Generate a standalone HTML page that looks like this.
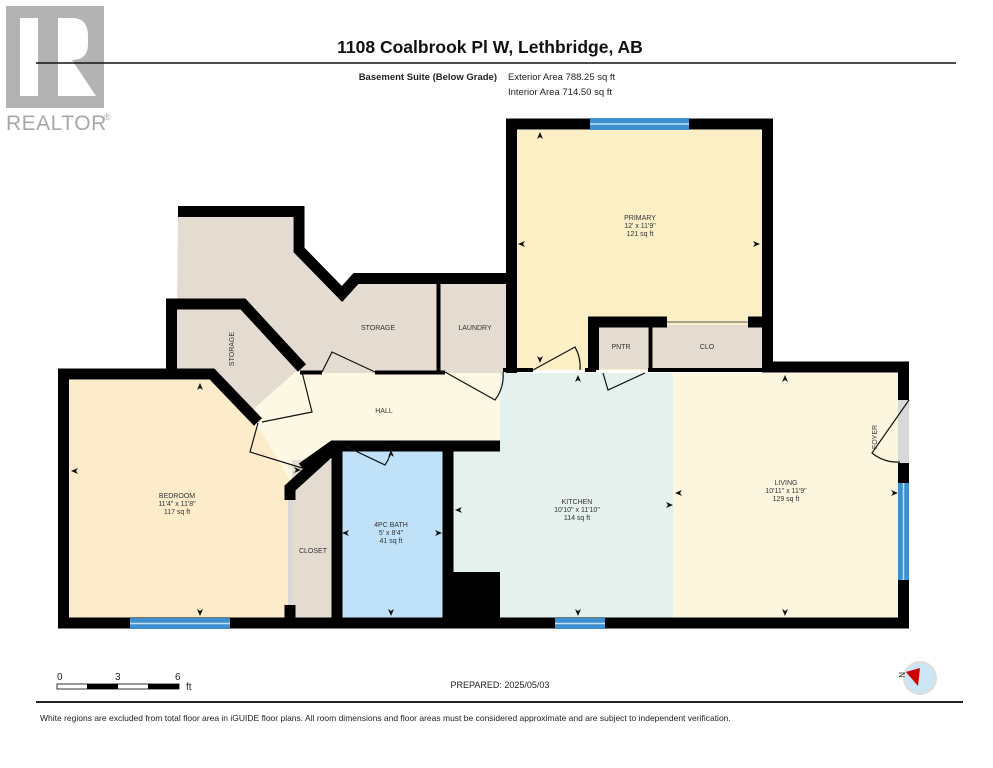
<!DOCTYPE html>
<html><head><meta charset="utf-8"><style>
html,body{margin:0;padding:0;background:#fff;}
svg{display:block;font-family:"Liberation Sans",sans-serif;}
.l{font-size:7px;fill:#333;text-anchor:middle;}
</style></head><body>
<svg width="993" height="768" viewBox="0 0 993 768" xmlns="http://www.w3.org/2000/svg">
<defs>
<polygon id="au" points="0,-5 -3,2 0,0 3,2" fill="#111"/>
</defs>
<!-- logo -->
<rect x="6" y="6" width="98" height="102" fill="#b3b3b3"/>
<rect x="20" y="18" width="18" height="78" fill="#fff"/>
<path d="M58 18 H72 Q88 18 88 36 V44 Q88 60 72 60 L96 96 H58 Z" fill="#fff"/>
<text x="6" y="130" font-size="21" fill="#a8a8a8" letter-spacing="0.5">REALTOR</text>
<text x="104" y="120" font-size="9" fill="#a8a8a8">®</text>
<!-- header -->
<line x1="36" y1="63" x2="956" y2="63" stroke="#111" stroke-width="1.5"/>
<text x="490" y="53" font-size="17.5" font-weight="bold" text-anchor="middle" fill="#111">1108 Coalbrook Pl W, Lethbridge, AB</text>
<text x="497" y="80" font-size="9.5" font-weight="bold" text-anchor="end" fill="#222">Basement Suite (Below Grade)</text>
<text x="508" y="80" font-size="9.5" fill="#222">Exterior Area 788.25 sq ft</text>
<text x="508" y="95" font-size="9.5" fill="#222">Interior Area 714.50 sq ft</text>

<!-- fills -->
<polygon points="178,217 293,217 293,252 340,300 352,284 510,284 510,373 300,373 243,309 177,309" fill="#e4dcd1"/>
<polygon points="177,309 243,309 300,373 258,418 212,374 177,374" fill="#e4dcd1"/>
<polygon points="69,380 210,380 300,470 292,480 292,618 69,618" fill="#fcecc9"/>
<polygon points="300,373 500,373 500,446 333,446 302,470 258,418" fill="#fdf8e3"/>
<polygon points="250,412 300,368 312,470 292,484" fill="#fdf8e3"/>
<rect x="292" y="460" width="42" height="160" fill="#e4dcd1"/>
<rect x="341" y="448" width="103" height="170" fill="#bfe2f8"/>
<polygon points="500,373 673,373 673,618 452,618 452,448 500,448" fill="#e5f1ec"/>
<rect x="673" y="373" width="226" height="245" fill="#fdf6de"/>
<rect x="517" y="130" width="246" height="240" fill="#fcefc6"/>
<rect x="596" y="325" width="52" height="44" fill="#e4dcd1"/>
<rect x="653" y="325" width="110" height="44" fill="#e4dcd1"/>

<!-- walls -->
<g fill="none" stroke="#000" stroke-width="11" stroke-linejoin="miter">
<polyline points="178,211.5 299,211.5 299,250 342,294 356,278.5 512,278.5"/>
<polyline points="511.5,373 511.5,124 767.5,124 767.5,367 903.5,367 903.5,400"/>
<polyline points="903.5,463 903.5,623 63.5,623 63.5,374 212,374 258,422"/>
<polyline points="171.5,374 171.5,304 243,304 302,368"/>
<polyline points="302,468 333,446 500,446"/>
<polyline points="337,446 337,623"/>
<polyline points="448,446 448,623"/>
<polyline points="334,448 290,488 290,500"/>
<polyline points="290,605 290,623"/>
<polyline points="593.5,370 593.5,322 667,322"/>
<polyline points="748,322 767,322"/>
</g>
<g stroke="#000" stroke-width="4" fill="none">
<line x1="438.5" y1="283" x2="438.5" y2="373"/>
<line x1="650.5" y1="322" x2="650.5" y2="370"/>
<line x1="300" y1="372.5" x2="322" y2="372.5"/>
<line x1="375" y1="372.5" x2="445" y2="372.5"/>
<line x1="503" y1="370" x2="533" y2="370"/>
<line x1="585" y1="370" x2="596" y2="370"/>
<line x1="648" y1="370" x2="762" y2="370"/>
<line x1="333" y1="446" x2="345" y2="446"/>
<line x1="395" y1="446" x2="500" y2="446"/>
</g>
<rect x="452" y="572" width="48" height="52" fill="#000"/>
<!-- windows -->
<g fill="#3d8fd0"><rect x="590" y="118" width="99" height="12"/><rect x="130" y="618" width="100" height="11"/><rect x="555" y="618" width="50" height="11"/><rect x="898" y="483" width="11" height="97"/></g>
<g stroke="#bfe0f5" stroke-width="1.5"><line x1="590" y1="124" x2="689" y2="124"/><line x1="130" y1="623.5" x2="230" y2="623.5"/><line x1="555" y1="623.5" x2="605" y2="623.5"/><line x1="903.5" y1="483" x2="903.5" y2="580"/></g>
<rect x="898" y="400" width="11" height="63" fill="#d8d8d8"/>
<rect x="288" y="500" width="4" height="105" fill="#d8d8d8"/>
<!-- doors -->
<g stroke="#111" stroke-width="1.2" fill="none">
<path d="M302 372 L312 412 L262 422"/><path d="M258 423 L250 452 L302 468"/>
<path d="M322 372 L332 352 L375 372"/><path d="M445 372 L495 400 A40 40 0 0 0 503 372"/>
<path d="M533 370 L575 347 A40 40 0 0 1 580 370"/><path d="M603 373 L608 390 L645 373"/>
<path d="M345 446 L385 465 A40 40 0 0 0 392 446"/><path d="M909 400 L872 453 A40 40 0 0 0 900 462"/>
</g>
<line x1="667" y1="322" x2="748" y2="322" stroke="#555" stroke-width="1"/>
<!-- dimension arrows -->
<g>
<use href="#au" transform="translate(540,137)"/><use href="#au" transform="translate(523,244) rotate(-90)"/><use href="#au" transform="translate(755,244) rotate(90)"/><use href="#au" transform="translate(540,358) rotate(180)"/>
<use href="#au" transform="translate(200,388)"/><use href="#au" transform="translate(76,471) rotate(-90)"/><use href="#au" transform="translate(296,470) rotate(90)"/><use href="#au" transform="translate(200,611) rotate(180)"/>
<use href="#au" transform="translate(391,455)"/><use href="#au" transform="translate(347,533) rotate(-90)"/><use href="#au" transform="translate(437,533) rotate(90)"/><use href="#au" transform="translate(391,611) rotate(180)"/>
<use href="#au" transform="translate(578,380)"/><use href="#au" transform="translate(460,510) rotate(-90)"/><use href="#au" transform="translate(668,505) rotate(90)"/><use href="#au" transform="translate(578,611) rotate(180)"/>
<use href="#au" transform="translate(785,380)"/><use href="#au" transform="translate(680,493) rotate(-90)"/><use href="#au" transform="translate(893,493) rotate(90)"/><use href="#au" transform="translate(785,611) rotate(180)"/>
</g>
<!-- labels -->
<text class="l" x="640" y="220">PRIMARY</text><text class="l" x="640" y="228">12' x 11'9"</text><text class="l" x="640" y="236">121 sq ft</text>
<text class="l" x="378" y="330">STORAGE</text><text class="l" x="475" y="330">LAUNDRY</text>
<text class="l" x="234" y="349" transform="rotate(-90 234 349)">STORAGE</text>
<text class="l" x="384" y="413">HALL</text>
<text class="l" x="621" y="349">PNTR</text><text class="l" x="707" y="349">CLO</text>
<text class="l" x="877" y="437" transform="rotate(-90 877 437)">FOYER</text>
<text class="l" x="177" y="498">BEDROOM</text><text class="l" x="177" y="506">11'4" x 11'8"</text><text class="l" x="177" y="514">117 sq ft</text>
<text class="l" x="313" y="553">CLOSET</text>
<text class="l" x="391" y="527">4PC BATH</text><text class="l" x="391" y="535">5' x 8'4"</text><text class="l" x="391" y="543">41 sq ft</text>
<text class="l" x="577" y="504">KITCHEN</text><text class="l" x="577" y="512">10'10" x 11'10"</text><text class="l" x="577" y="520">114 sq ft</text>
<text class="l" x="786" y="485">LIVING</text><text class="l" x="786" y="493">10'11" x 11'9"</text><text class="l" x="786" y="501">129 sq ft</text>
<!-- footer -->
<g font-size="10" fill="#222"><text x="57" y="680">0</text><text x="115" y="680">3</text><text x="175" y="680">6</text><text x="186" y="690">ft</text></g>
<rect x="57" y="684" width="122" height="5" fill="#fff" stroke="#000" stroke-width="0.8"/>
<rect x="87" y="684" width="31" height="5" fill="#000"/><rect x="148" y="684" width="31" height="5" fill="#000"/>
<text x="500" y="688" font-size="9" text-anchor="middle" fill="#222">PREPARED: 2025/05/03</text>
<circle cx="920" cy="678" r="16" fill="#cde6f6" stroke="#ddd" stroke-width="2"/>
<polygon points="906,672 920,668 918,686" fill="#c00"/>
<text x="899" y="672" font-size="8" fill="#222" transform="rotate(90 899 672)">N</text>
<line x1="36" y1="702" x2="963" y2="702" stroke="#222" stroke-width="2"/>
<text x="40" y="721" font-size="8.5" fill="#222">White regions are excluded from total floor area in iGUIDE floor plans. All room dimensions and floor areas must be considered approximate and are subject to independent verification.</text>
</svg>
</body></html>
